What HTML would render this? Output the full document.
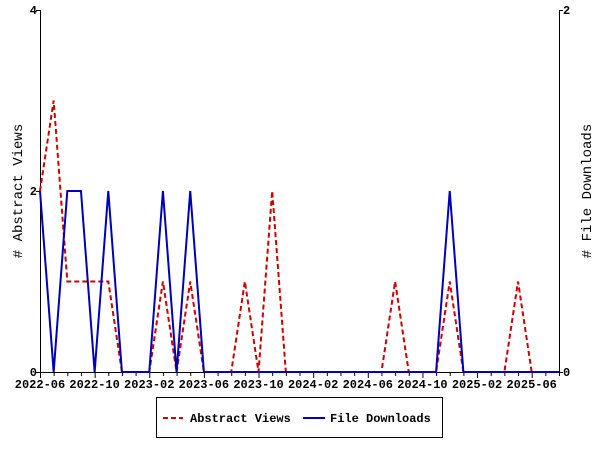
<!DOCTYPE html>
<html><head><meta charset="utf-8"><style>
html,body{margin:0;padding:0;background:#fff;}
svg text{font-family:"Liberation Mono",monospace;font-size:12px;font-weight:bold;fill:#000;}
</style></head><body>
<svg width="600" height="450">
<g id="axes"></g>
<g id="series"></g>
<text transform="translate(22,191) rotate(-90)" text-anchor="middle" style="font-size:14px;font-weight:normal"># Abstract Views</text>
<text transform="translate(591,191) rotate(-90)" text-anchor="middle" style="font-size:14px;font-weight:normal"># File Downloads</text>
<g>
<rect x="156.5" y="397.5" width="286" height="40" fill="#fff" stroke="#000"/>
<line x1="163" y1="418" x2="183" y2="418" stroke="#cc0000" stroke-width="2" stroke-dasharray="5,3"/>
<text x="190" y="422">Abstract Views</text>
<line x1="303" y1="418" x2="325" y2="418" stroke="#0000bb" stroke-width="2"/>
<text x="330" y="422">File Downloads</text>
</g>
</svg>
<script>
const tickLabels=["2022-06","2022-10","2023-02","2023-06","2023-10","2024-02","2024-06","2024-10","2025-02","2025-06"];
const abstractViews=[2,3,1,1,1,1,0,0,0,1,0,1,0,0,0,1,0,2,0,0,0,0,0,0,0,0,1,0,0,0,1,0,0,0,0,1,0,0,0];
const fileDownloads=[1,0,1,1,0,1,0,0,0,1,0,1,0,0,0,0,0,0,0,0,0,0,0,0,0,0,0,0,0,0,1,0,0,0,0,0,0,0,0];
const leftTicks=[0,2,4];
const rightTicks=[0,2];
const X0=40,X1=559,Y0=372,Y1=10,N=38;
const xs=i=>X0+(X1-X0)*i/N;
const yL=v=>Y0-(Y0-Y1)*v/4;
const yR=v=>Y0-(Y0-Y1)*v/2;
const NS="http://www.w3.org/2000/svg";
function mk(tag,attrs,parent,txt){const e=document.createElementNS(NS,tag);for(const k in attrs)e.setAttribute(k,attrs[k]);if(txt!==undefined)e.textContent=txt;parent.appendChild(e);return e;}
const ax=document.getElementById('axes');
let e;
e=mk('path',{d:`M${X0+.5},${Y1}V${Y0+.5}H${X1+.5}V${Y1}`,fill:'none',stroke:'#000'},ax);


for(let i=0;i<=N;i++){
 const big=i%4===0;
 e=mk('line',{x1:xs(i)+.5,x2:xs(i)+.5,y1:Y0,y2:Y0+(big?6:4),stroke:'#000'},ax);
 
 
}
tickLabels.forEach((t,k)=>{
 e=mk('text',{x:xs(k*4),y:388,'text-anchor':'middle'},ax,t);
 
 
});
leftTicks.forEach(v=>{
 e=mk('line',{x1:X0-4,x2:X0,y1:yL(v)+.5,y2:yL(v)+.5,stroke:'#000'},ax);
 
 
 e=mk('text',{x:X0-3,y:yL(v)+4,'text-anchor':'end'},ax,String(v));
 
 
});
rightTicks.forEach(v=>{
 e=mk('line',{x1:X1,x2:X1+4,y1:yR(v)+.5,y2:yR(v)+.5,stroke:'#000'},ax);
 
 
 e=mk('text',{x:X1+4,y:yR(v)+4,'text-anchor':'start'},ax,String(v));
 
 
});
const sg=document.getElementById('series');
e=mk('polyline',{points:abstractViews.map((v,i)=>xs(i)+','+yL(v)).join(' '),fill:'none',stroke:'#cc0000','stroke-width':2,'stroke-dasharray':'5,3'},sg);


e=mk('polyline',{points:fileDownloads.map((v,i)=>xs(i)+','+yR(v)).join(' '),fill:'none',stroke:'#0000bb','stroke-width':2},sg);


</script>
</body></html>
